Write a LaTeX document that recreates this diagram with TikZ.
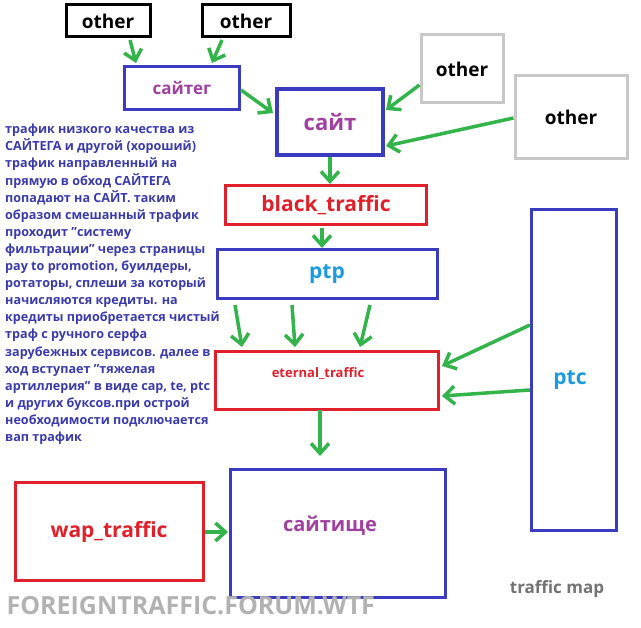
\documentclass[tikz,border=0pt]{standalone}
\usepackage{fontspec}
\setmainfont{Open Sans}[BoldFont={* Bold}]
\usetikzlibrary{arrows.meta}
\definecolor{bl}{HTML}{3B3BBF}
\definecolor{pu}{HTML}{A040A0}
\definecolor{rd}{HTML}{E0202A}
\definecolor{cy}{HTML}{1A9BE0}
\definecolor{gr}{HTML}{33B44A}
\definecolor{gy}{HTML}{C8C8C8}
\definecolor{tx}{HTML}{3A3AAA}
\newcommand\qq{\char34\relax}
\begin{document}
\begin{tikzpicture}[x=1pt,y=-1pt,font=\bfseries,
  bx/.style={draw,line width=3pt,inner sep=0pt},
  ga/.style={draw=gr,line width=3.5pt,-{Straight Barb[length=10pt,width=18pt,line width=3.5pt]}}]
\useasboundingbox (0,0) rectangle (641,628);
\node[bx,draw=black,minimum width=84pt,minimum height=32pt,font=\bfseries\fontsize{19}{22}\selectfont] (o1) at (108,21) {other};
\node[bx,draw=black,minimum width=88pt,minimum height=32pt,font=\bfseries\fontsize{19}{22}\selectfont] (o2) at (246,21) {other};
\node[bx,draw=bl,minimum width=115pt,minimum height=43pt,text=pu,font=\bfseries\fontsize{17}{20}\selectfont] (st) at (182,88) {сайтег};
\node[bx,draw=gy,minimum width=82pt,minimum height=68pt,font=\bfseries\fontsize{19}{22}\selectfont] (o3) at (462,69) {other};
\node[bx,draw=gy,minimum width=112pt,minimum height=83pt,font=\bfseries\fontsize{19}{22}\selectfont] (o4) at (571,117) {other};
\node[bx,draw=bl,line width=4pt,minimum width=106pt,minimum height=66pt,text=pu,font=\bfseries\fontsize{22}{26}\selectfont] (s) at (330,122) {сайт};
\node[bx,draw=rd,minimum width=201pt,minimum height=39pt,text=rd,font=\bfseries\fontsize{21}{24}\selectfont] (bt) at (326,205) {black\_traffic};
\node[bx,draw=bl,minimum width=220pt,minimum height=49pt,text=cy,font=\bfseries\fontsize{21}{24}\selectfont] (ptp) at (327,274) {ptp};
\node[bx,draw=rd,minimum width=223pt,minimum height=58pt,anchor=north] (et) at (327,350) {};
\node[text=rd,font=\bfseries\fontsize{13}{16}\selectfont] (etl) at (318,374) {eternal\_traffic};
\node[bx,draw=bl,minimum width=85pt,minimum height=321pt] (ptc) at (574,370) {};
\node[text=cy,font=\bfseries\fontsize{21}{24}\selectfont] (ptcl) at (570,380) {ptc};
\node[bx,draw=bl,minimum width=215pt,minimum height=128pt] (big) at (338,534) {};
\node[text=pu,font=\bfseries\fontsize{20}{24}\selectfont] (bigl) at (330,526) {сайтище};
\node[bx,draw=rd,minimum width=188pt,minimum height=98pt,text=rd,font=\bfseries\fontsize{21}{24}\selectfont] (wap) at (109,532) {wap\_traffic};
\node[text=gray!90!black,font=\bfseries\fontsize{17}{20}\selectfont] (tm) at (557,589) {traffic map};
\node[text=gray!60,font=\bfseries\fontsize{25}{28}\selectfont,anchor=west] (wm) at (3,606) {FOREIGNTRAFFIC.FORUM.WTF};
\node[text=tx,anchor=north west,align=left,inner sep=0pt,font=\bfseries\fontsize{12.6}{17.1}\selectfont] (para) at (5,124) {трафик низкого качества из\\САЙТЕГА и другой (хороший)\\трафик направленный на\\прямую в обход САЙТЕГА\\попадают на САЙТ. таким\\образом смешанный трафик\\проходит \qq систему\\фильтрации\qq{} через страницы\\pay to promotion, буилдеры,\\ротаторы, сплеши за который\\начисляются кредиты. на\\кредиты приобретается чистый\\траф с ручного серфа\\зарубежных сервисов. далее в\\ход вступает \qq тяжелая\\артиллерия\qq{} в виде cap, te, ptc\\и других буксов.при острой\\необходимости подключается\\вап трафик};
\coordinate (a1) at (130,40); \coordinate (a2) at (222,40);
\draw[ga] (a1) -- (136,63);
\draw[ga] (a2) -- (212,63);
\draw[ga] (st.east |- 0,90) -- (273,113);
\draw[ga] (o3.west |- 0,85) -- (386,110);
\draw[ga] (o4.west |- 0,118) -- (386,146);
\draw[ga] (s.south) -- (bt.north -| s.south);
\draw[ga] (322,228) -- (322,248);
\draw[ga] (235,305) -- (242,347);
\draw[ga] (292,305) -- (295,347);
\draw[ga] (370,305) -- (360,347);
\draw[ga] (ptc.west |- 0,325) -- (442,366);
\draw[ga] (ptc.west |- 0,390) -- (442,396);
\draw[ga] (320,410) -- (320,456);
\draw[ga] (wap.east |- 0,532) -- (228,532);
\end{tikzpicture}
\end{document}
